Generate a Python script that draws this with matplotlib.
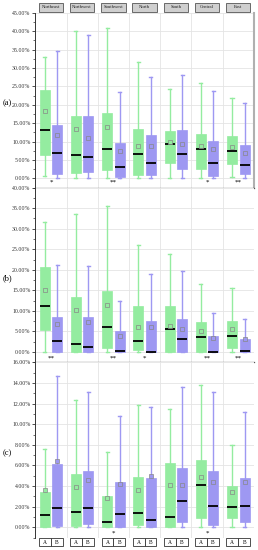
import matplotlib
matplotlib.use("Agg")
import matplotlib.pyplot as plt
from matplotlib.patches import Rectangle
from matplotlib.ticker import FuncFormatter, MultipleLocator
import matplotlib.transforms as mtransforms

plt.rcParams['font.family'] = ['Liberation Serif', 'DejaVu Serif']

regions = ['Northeast', 'Northwest', 'Southwest', 'North', 'South', 'Central', 'East']

# stats per region: [whislo, q1, med, q3, whishi, mean]
a_green = [[0.7, 6.3, 13.1, 24.0, 32.9, 18.2],
           [0.0, 1.45, 6.3, 17.0, 40.0, 13.5],
           [0.0, 2.2, 8.0, 17.7, 40.9, 13.9],
           [0.0, 0.8, 6.7, 13.5, 31.5, 8.8],
           [0.0, 4.2, 9.4, 12.8, 24.3, 10.0],
           [0.0, 2.6, 8.0, 12.1, 25.8, 8.9],
           [0.3, 3.8, 7.5, 11.5, 21.7, 8.5]]
a_purple = [[0.0, 1.2, 7.0, 14.5, 34.5, 11.9],
            [0.0, 1.6, 5.7, 16.8, 38.9, 11.0],
            [0.0, 0.4, 3.0, 9.7, 23.4, 7.4],
            [0.0, 1.0, 4.3, 11.7, 27.6, 8.8],
            [0.0, 2.4, 6.7, 13.0, 28.2, 9.2],
            [0.0, 0.7, 4.1, 10.2, 23.8, 7.9],
            [0.0, 1.3, 3.7, 9.1, 20.4, 7.0]]
b_green = [[0.0, 5.4, 11.2, 20.6, 31.6, 15.1],
           [0.0, 0.0, 1.9, 13.5, 33.5, 10.3],
           [0.0, 0.9, 6.1, 14.8, 35.6, 11.5],
           [0.0, 0.4, 2.7, 11.1, 26.0, 6.0],
           [0.0, 0.0, 5.5, 11.3, 23.9, 6.4],
           [0.0, 0.0, 3.6, 7.3, 16.6, 5.0],
           [0.0, 0.9, 3.8, 7.5, 15.6, 5.5]]
b_purple = [[0.0, 0.0, 2.7, 8.6, 21.2, 6.8],
            [0.0, 0.0, 1.3, 8.5, 20.9, 7.3],
            [0.0, 0.0, 0.25, 5.0, 12.3, 4.0],
            [0.0, 0.0, 0.0, 7.6, 18.9, 6.0],
            [0.0, 0.0, 3.2, 8.1, 19.7, 5.5],
            [0.0, 0.0, 0.0, 3.9, 9.6, 3.4],
            [0.0, 0.0, 0.15, 3.2, 8.1, 3.1]]
c_green = [[0.0, 0.0, 1.16, 3.4, 7.6, 3.6],
           [0.0, 0.16, 1.5, 5.2, 12.3, 3.9],
           [0.0, 0.0, 0.55, 3.0, 7.3, 2.8],
           [0.0, 0.2, 1.4, 4.9, 11.9, 3.6],
           [0.0, 0.03, 0.97, 6.2, 11.5, 4.1],
           [0.0, 0.9, 4.1, 6.5, 13.8, 4.9],
           [0.0, 0.9, 2.0, 4.0, 8.0, 3.4]]
c_purple = [[0.0, 0.16, 1.9, 6.1, 14.7, 6.4],
            [0.0, 0.3, 1.9, 5.45, 13.1, 4.6],
            [0.0, 0.03, 1.26, 4.4, 10.8, 4.2],
            [0.0, 0.0, 0.75, 4.8, 11.7, 5.0],
            [0.0, 0.5, 2.6, 5.8, 13.6, 4.1],
            [0.0, 0.2, 2.1, 5.5, 13.1, 4.4],
            [0.0, 0.55, 2.1, 4.8, 11.2, 4.4]]

a_stars = ['*', '', '**', '', '', '*', '**']
b_stars = ['**', '', '**', '*', '', '**', '**']
c_stars = ['', '', '*', '', '', '*', '']

panels = [('(a)', a_green, a_purple, a_stars, 45, 5, -2.55, -1.0),
          ('(b)', b_green, b_purple, b_stars, 40, 5, -2.5, -1.5),
          ('(c)', c_green, c_purple, c_stars, 16, 2, -1.0, -0.55)]

GREEN = '#94eca0'
PURPLE = '#9e98f2'

fig = plt.figure(figsize=(2.58, 5.5), dpi=100)
boxes = [(0.6587, 0.3182), (0.3413, 0.3175), (0.0224, 0.3189)]


def to_stats(rows):
    out = []
    for r in rows:
        out.append(dict(whislo=r[0], q1=r[1], med=r[2], q3=r[3], whishi=r[4],
                        mean=r[5], fliers=[]))
    return out


for k, (lab, gr, pu, stars, top, step, bot, sy) in enumerate(panels):
    y0, h = boxes[k]
    ax = fig.add_axes([0.137, y0, 0.847, h])
    xs = list(range(len(regions)))
    for data, off, col in [(gr, -0.2, GREEN), (pu, 0.2, PURPLE)]:
        ax.bxp(to_stats(data), positions=[x + off for x in xs], widths=0.32,
               patch_artist=True, showmeans=True, capwidths=0.1,
               boxprops=dict(facecolor=col, edgecolor=col, lw=0.5),
               whiskerprops=dict(color=col, lw=1.0),
               capprops=dict(color=col, lw=1.0),
               medianprops=dict(color='black', lw=1.3),
               meanprops=dict(marker='s', markersize=2.4, markerfacecolor=col,
                              markeredgecolor='#888888', markeredgewidth=0.5),
               zorder=3)
    for i, s in enumerate(stars):
        if s:
            ax.text(i, sy, s, ha='center', va='center', fontsize=5, zorder=4)
    ax.set_xlim(-0.5, 6.5)
    ax.set_ylim(bot, top)
    ax.yaxis.set_major_locator(MultipleLocator(step))
    ax.yaxis.set_minor_locator(MultipleLocator(step / 2))
    ax.yaxis.set_major_formatter(FuncFormatter(lambda v, p: '%.2f%%' % v if v >= 0 else ''))
    ax.tick_params(axis='y', which='major', labelsize=4.2, length=2.5, width=0.6,
                   pad=1, colors='#333333')
    ax.tick_params(axis='y', which='minor', length=1.3, width=0.5, colors='#333333')
    ax.set_xticks([x + 0.5 for x in xs[:-1]])
    ax.tick_params(axis='x', length=0, labelbottom=False)
    ax.grid(True, axis='both', which='major', color='#e4e4e4', lw=0.6, zorder=0)
    ax.set_axisbelow(True)
    ax.spines['top'].set_visible(False)
    ax.spines['right'].set_visible(False)
    ax.spines['left'].set_color('#333333')
    ax.spines['left'].set_linewidth(0.7)
    if k < 2:
        ax.spines['bottom'].set_color('#555555')
        ax.spines['bottom'].set_linewidth(0.9)
    else:
        ax.spines['bottom'].set_visible(False)
    if k == 0:
        ax.spines['right'].set_visible(True)
        ax.spines['right'].set_color('#b0b0b0')
        ax.spines['right'].set_linewidth(1.5)
    fig.text(0.012, y0 + h / 2 - 0.006, lab, fontsize=6, va='center', ha='left')

    trans = mtransforms.blended_transform_factory(ax.transData, ax.transAxes)
    if k == 0:
        for i, name in enumerate(regions):
            ax.add_patch(Rectangle((i - 0.39, 1.006), 0.78, 0.048, transform=trans,
                                   facecolor='#cfcfcf', edgecolor='#555555', lw=0.6,
                                   clip_on=False))
            ax.text(i, 1.03, name, transform=trans, ha='center', va='center',
                    fontsize=3.4, color='#222222', clip_on=False)
    if k == 2:
        for i in xs:
            for j, t in enumerate(['A', 'B']):
                x0 = i - 0.38 + j * 0.38
                ax.add_patch(Rectangle((x0, -0.047), 0.38, 0.045, transform=trans,
                                       facecolor='white', edgecolor='#333333', lw=0.6,
                                       clip_on=False))
                ax.text(x0 + 0.19, -0.025, t, transform=trans, ha='center',
                        va='center', fontsize=4, clip_on=False)

fig.savefig('out.png', dpi=100)
